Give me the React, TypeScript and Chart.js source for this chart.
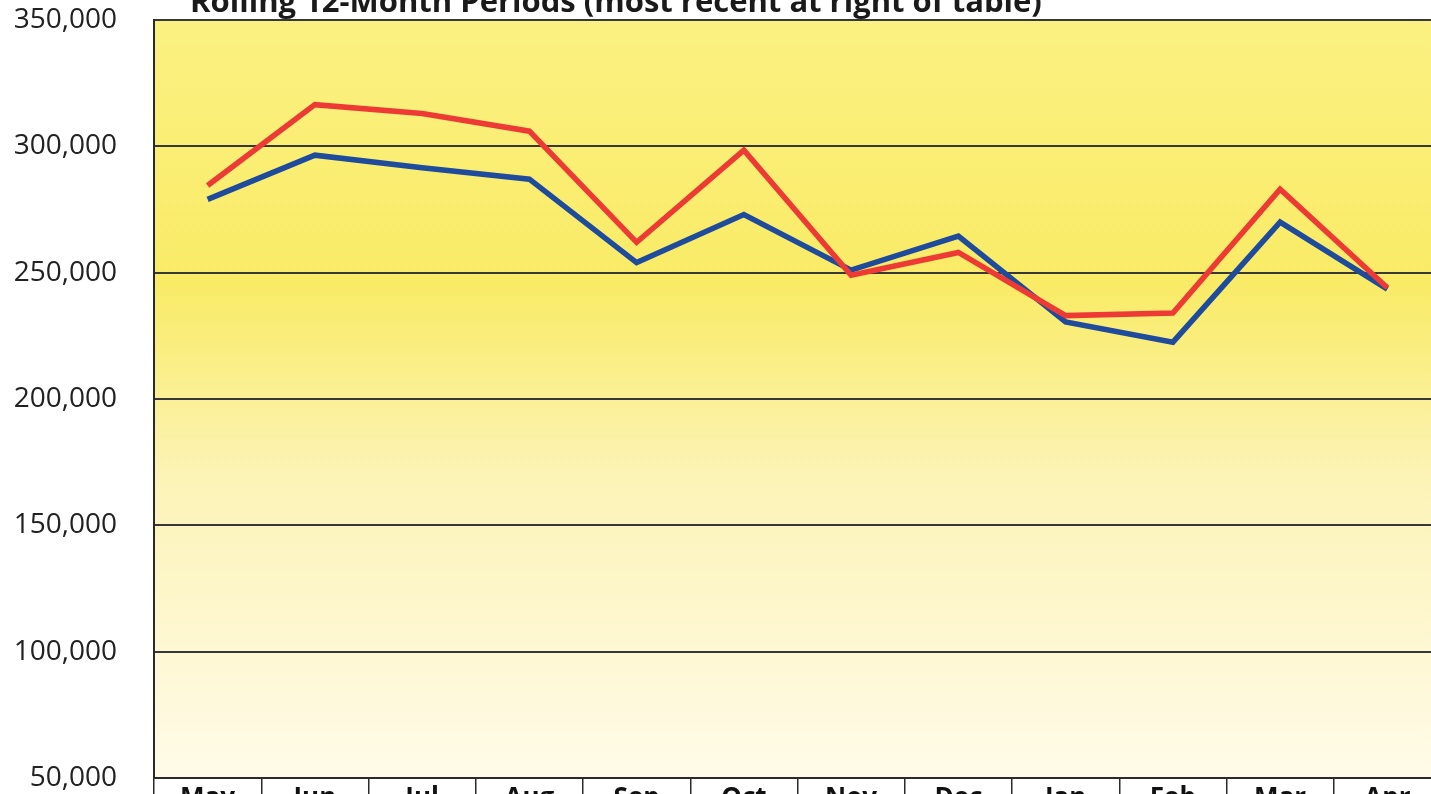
import React, { useEffect, useRef } from "react";
import { Chart, registerables } from "chart.js";

Chart.register(...registerables);

const TITLE = "Rolling 12-Month Periods (most recent at right of table)";
const MONTHS = ["May", "Jun", "Jul", "Aug", "Sep", "Oct", "Nov", "Dec", "Jan", "Feb", "Mar", "Apr"];
const RED_SERIES = [284500, 316500, 313000, 306000, 262000, 298500, 249000, 258000, 233000, 234000, 283000, 244000];
const BLUE_SERIES = [279000, 296500, 291500, 287000, 254000, 273000, 251000, 264500, 230500, 222500, 270000, 243500];
const Y_MIN = 50000;
const Y_MAX = 350000;
const Y_STEP = 50000;

const CANVAS_W = 1460;
const CANVAS_H = 830;

const bgPlugin = {
  id: "plotBg",
  beforeDraw(chart: any) {
    const { ctx, chartArea } = chart;
    const { left, top, right, bottom } = chartArea;
    const g = ctx.createLinearGradient(0, top, 0, bottom);
    g.addColorStop(0, "#FBF182");
    g.addColorStop(0.35, "#F9EB66");
    g.addColorStop(0.6, "#FCF3B6");
    g.addColorStop(1, "#FFFBE8");
    ctx.save();
    ctx.fillStyle = g;
    ctx.fillRect(left, top, right - left, bottom - top);
    ctx.restore();
  },
};

const titlePlugin = {
  id: "topTitle",
  afterDraw(chart: any) {
    const { ctx } = chart;
    ctx.save();
    ctx.font = 'bold 31px "Open Sans"';
    ctx.fillStyle = "#1a1a1a";
    ctx.textAlign = "center";
    ctx.textBaseline = "alphabetic";
    ctx.fillText(TITLE, 616, 12);
    ctx.restore();
  },
};

export default function App() {
  const ref = useRef<HTMLCanvasElement>(null);

  useEffect(() => {
    if (!ref.current) return;
    const chart = new Chart(ref.current, {
      type: "line",
      data: {
        labels: MONTHS,
        datasets: [
          {
            label: "Red",
            data: RED_SERIES,
            borderColor: "#EE3A34",
            borderWidth: 5.5,
            pointRadius: 0,
            tension: 0,
            fill: false,
          },
          {
            label: "Blue",
            data: BLUE_SERIES,
            borderColor: "#1E4B9C",
            borderWidth: 5.5,
            pointRadius: 0,
            tension: 0,
            fill: false,
          },
        ],
      },
      options: {
        responsive: false,
        animation: false,
        layout: { padding: { top: 20, right: 19, bottom: 0, left: 0 } },
        plugins: {
          legend: { display: false },
          title: { display: false },
          tooltip: { enabled: false },
        },
        scales: {
          x: {
            type: "category",
            offset: true,
            grid: {
              offset: true,
              drawOnChartArea: false,
              drawTicks: true,
              tickLength: 30,
              color: "#2a2a2a",
              lineWidth: 1.5,
            },
            border: { display: true, color: "#2a2a2a", width: 2 },
            ticks: {
              padding: -25,
              color: "#111",
              font: { family: '"Open Sans"', size: 26, weight: "bold" },
              maxRotation: 0,
            },
            afterFit(scale: any) {
              scale.height = CANVAS_H - 778;
              scale.paddingLeft = 0;
              scale.paddingRight = 0;
            },
          },
          y: {
            min: Y_MIN,
            max: Y_MAX,
            ticks: {
              stepSize: Y_STEP,
              padding: 37,
              color: "#222",
              font: { family: '"Open Sans"', size: 28, weight: "500" },
              callback: (v: any) => Number(v).toLocaleString("en-US"),
            },
            grid: {
              color: "#383838",
              lineWidth: 2,
              drawTicks: false,
            },
            border: { display: true, color: "#2a2a2a", width: 2 },
            afterFit(scale: any) {
              scale.width = 154;
              scale.paddingTop = 0;
              scale.paddingBottom = 0;
            },
          },
        },
      },
      plugins: [bgPlugin, titlePlugin],
    });
    return () => chart.destroy();
  }, []);

  return (
    <div
      style={{
        position: "fixed",
        left: 0,
        top: 0,
        width: 1431,
        height: 794,
        overflow: "hidden",
        background: "#fff",
      }}
    >
      <canvas ref={ref} width={CANVAS_W} height={CANVAS_H} style={{ display: "block", width: CANVAS_W, height: CANVAS_H }} />
    </div>
  );
}
